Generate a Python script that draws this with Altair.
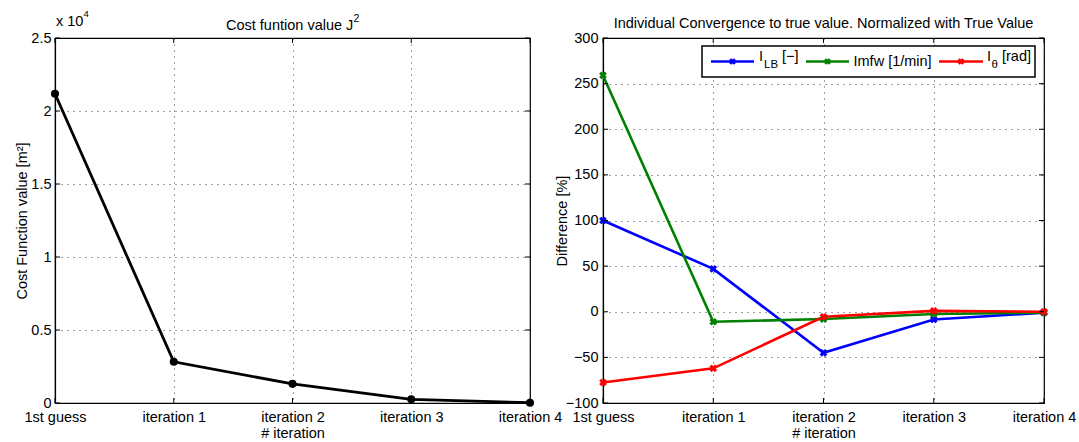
import altair as alt
import pandas as pd

# Iteration labels shared by both panels
iterations = ["1st guess", "iteration 1", "iteration 2", "iteration 3", "iteration 4"]

# Cost function J^2 per iteration [m^2]
cost_values = [21180, 2820, 1310, 250, 20]
cost_ticks = [0, 5000, 10000, 15000, 20000, 25000]

# Relative difference to the true value [%]
diff_lb = [100, 47, -45, -8.5, -1]
diff_mfw = [259, -11, -8, -2.5, -1]
diff_theta = [-77.5, -62, -5.5, 1, 0]
diff_ticks = [-100, -50, 0, 50, 100, 150, 200, 250, 300]

FONT = "Liberation Sans"
FS = 14.5
W_LEFT, W_RIGHT, H = 475, 441, 365
TICK = 5

label_expr = "[" + ",".join("'%s'" % s for s in iterations) + "][datum.value]"
steps = list(range(len(iterations)))

cost_df = pd.DataFrame({"step": steps, "cost": cost_values})

series_names = ["I_LB", "Imfw", "I_theta"]
series_colors = ["#0000ff", "#008000", "#ff0000"]
rows = []
for name, vals in zip(series_names, [diff_lb, diff_mfw, diff_theta]):
    for i, v in enumerate(vals):
        rows.append({"step": i, "diff": v, "series": name})
diff_df = pd.DataFrame(rows)

one = alt.Data(values=[{}])
x_scale = alt.Scale(domain=[0, 4], nice=False)
cost_scale = alt.Scale(domain=[0, 25000], nice=False)
diff_scale = alt.Scale(domain=[-100, 300], nice=False)


def x_enc():
    return alt.X("step:Q", scale=x_scale,
                 axis=alt.Axis(values=steps, labelExpr=label_expr, title="# iteration",
                               grid=True, labelPadding=7, titlePadding=3))


def cost_enc():
    return alt.Y("cost:Q", scale=cost_scale,
                 axis=alt.Axis(values=cost_ticks,
                               labelExpr="format(datum.value / 10000, '.1~f')",
                               title="Cost Function value [m²]", grid=True,
                               labelPadding=4, titlePadding=2, minExtent=24, maxExtent=24))


def diff_enc():
    return alt.Y("diff:Q", scale=diff_scale,
                 axis=alt.Axis(values=diff_ticks, title="Difference [%]", grid=True,
                               labelPadding=5, titlePadding=3, minExtent=31, maxExtent=31))


def inner_ticks(y_field, y_vals, y_enc, width):
    """MATLAB-style ticks pointing into the plot box on all four sides."""
    xs = pd.DataFrame({"step": steps})
    ys = pd.DataFrame({y_field: y_vals})
    layers = []
    for y0, y1 in [(H, H - TICK), (0, TICK)]:
        layers.append(alt.Chart(xs).mark_rule(color="black", strokeWidth=1).encode(
            x=x_enc(), y=alt.value(y0), y2=alt.value(y1)))
    for x0, x1 in [(0, TICK), (width, width - TICK)]:
        layers.append(alt.Chart(ys).mark_rule(color="black", strokeWidth=1).encode(
            y=y_enc(), x=alt.value(x0), x2=alt.value(x1)))
    return layers


def text_at(text, x, y, size=FS, align="left"):
    return alt.Chart(one).mark_text(align=align, baseline="alphabetic", fontSize=size,
                                    font=FONT, color="black").encode(
        x=alt.value(x), y=alt.value(y), text=alt.value(text))


# ---------------- left panel: cost function ----------------
cost_line = alt.Chart(cost_df).mark_line(
    color="black", strokeWidth=2.8,
    point=alt.OverlayMarkDef(filled=True, size=65, color="black"),
).encode(x=x_enc(), y=cost_enc())

left_texts = [
    text_at("x 10", 1, -12),
    text_at("4", 28.5, -21, 9.5),
    text_at("Cost funtion value J", 171, -8),
    text_at("2", 298.5, -16, 10.5),
]

left = alt.layer(
    cost_line, *inner_ticks("cost", cost_ticks, cost_enc, W_LEFT), *left_texts,
).properties(width=W_LEFT, height=H)

# ---------------- right panel: individual convergence ----------------
color_enc = alt.Color("series:N", scale=alt.Scale(domain=series_names, range=series_colors),
                      legend=None)

diff_lines = alt.Chart(diff_df).mark_line(strokeWidth=2.6).encode(
    x=x_enc(), y=diff_enc(), color=color_enc, order=alt.Order("step:Q"),
)

diff_marks = alt.Chart(diff_df).mark_point(
    shape="cross", angle=45, filled=True, size=60, opacity=1
).encode(x=x_enc(), y=diff_enc(), color=color_enc)

# legend box in the upper right corner
legend_layers = [
    alt.Chart(one).mark_rect(fill="white", stroke="black", strokeWidth=1.5).encode(
        x=alt.value(99), x2=alt.value(432), y=alt.value(8), y2=alt.value(39))
]
swatch_x = [(108, 151), (203, 246), (336, 380)]
for (x0, x1), col in zip(swatch_x, series_colors):
    legend_layers.append(
        alt.Chart(one).mark_rule(color=col, strokeWidth=2.6).encode(
            x=alt.value(x0), x2=alt.value(x1), y=alt.value(23.5)))
    legend_layers.append(
        alt.Chart(one).mark_point(shape="cross", angle=45, filled=True, size=45, color=col,
                                  opacity=1).encode(
            x=alt.value((x0 + x1) / 2), y=alt.value(23.5)))

legend_texts = [
    ("I", 156, 22.5, FS),
    ("LB", 161, 30, 11.5),
    ("[−]", 179, 22.5, FS),
    ("Imfw [1/min]", 250.5, 28.3, FS),
    ("I", 384, 22.5, FS),
    ("θ", 388.5, 30, 11.5),
    ("[rad]", 399, 22.5, FS),
]
for txt, tx, ty, fs in legend_texts:
    legend_layers.append(text_at(txt, tx, ty, fs))

right = alt.layer(
    diff_lines, diff_marks, *inner_ticks("diff", diff_ticks, diff_enc, W_RIGHT), *legend_layers,
    text_at("Individual Convergence to true value. Normalized with True Value",
            W_RIGHT / 2, -10, align="center"),
).properties(width=W_RIGHT, height=H)

chart = alt.hconcat(left, right, spacing=73, bounds="flush").configure(
    font=FONT,
    padding={"left": 13, "top": 8, "right": 0, "bottom": 0},
).configure_view(
    stroke="black", strokeWidth=1.2
).configure_axis(
    domainColor="black", domainWidth=1.2,
    labelColor="black", labelFont=FONT, labelFontSize=FS,
    titleColor="black", titleFont=FONT, titleFontSize=FS, titleFontWeight="normal",
    tickSize=0, labelFlush=False, labelOverlap=False,
    gridDash=[1, 5], gridColor="#000000", gridOpacity=0.75, gridWidth=1,
)

chart.save("out.html", embed_options={"renderer": "svg", "actions": False})
